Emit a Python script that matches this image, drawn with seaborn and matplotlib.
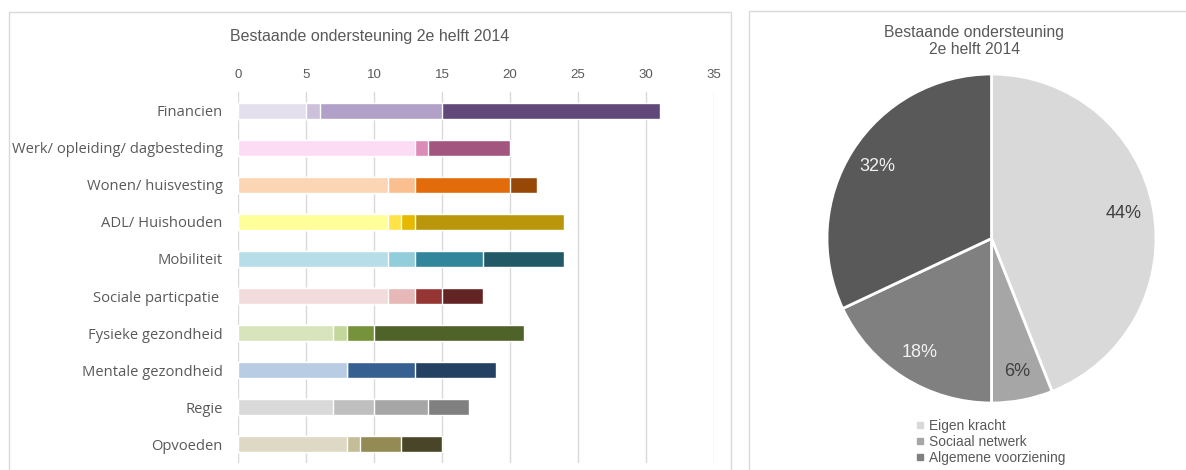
import matplotlib
matplotlib.use("Agg")
import matplotlib.pyplot as plt
from matplotlib.patches import Rectangle
from matplotlib.lines import Line2D
import seaborn as sns
import pandas as pd
import numpy as np

# ---- data ----
categories = ["Financien", "Werk/ opleiding/ dagbesteding", "Wonen/ huisvesting",
              "ADL/ Huishouden", "Mobiliteit", "Sociale particpatie ",
              "Fysieke gezondheid", "Mentale gezondheid", "Regie", "Opvoeden"]
seg1 = [5, 13, 11, 11, 11, 11, 7, 8, 7, 8]
seg2 = [1, 1, 2, 1, 2, 2, 1, 0, 3, 1]
seg3 = [9, 6, 7, 1, 5, 2, 2, 5, 4, 3]
seg4 = [16, 0, 2, 11, 6, 3, 11, 6, 3, 3]
x_ticks = [0, 5, 10, 15, 20, 25, 30, 35]

pie_labels = ["Eigen kracht", "Sociaal netwerk", "Algemene voorziening", ""]
pie_values = [44, 6, 18, 32]

# colour shades per category (lightest -> darkest)
shade1 = ["#E4DFEC", "#FCDCF4", "#FCD5B4", "#FFFF99", "#B7DEE8", "#F2DCDB", "#D8E4BC", "#B8CCE4", "#D9D9D9", "#DDD9C4"]
shade2 = ["#CCC0DA", "#DA8BB8", "#FABF8F", "#FFE347", "#92CDDC", "#E6B8B7", "#C4D79B", "#95B3D7", "#BFBFBF", "#C4BD97"]
shade3 = ["#B1A0C7", "#A2567F", "#E26B0A", "#E6B800", "#31869B", "#963634", "#76933C", "#366092", "#A6A6A6", "#948A54"]
shade4 = ["#60497A", "#A2567F", "#974706", "#BA960A", "#215967", "#632523", "#4F6228", "#244062", "#808080", "#494529"]
pie_colors = ["#D9D9D9", "#A6A6A6", "#808080", "#595959"]

W, H = 1186, 470
fig = plt.figure(figsize=(W / 100, H / 100), dpi=100)
sns.set_style("white")
plt.rcParams['font.family'] = ['Liberation Sans', 'DejaVu Sans']

# panel frames
fig.patches.append(Rectangle((9 / W, -0.1), (731 - 9) / W, 1 - 12 / H + 0.1,
                             transform=fig.transFigure, fill=False, ec="#D9D9D9", lw=1))
fig.patches.append(Rectangle((749 / W, -0.1), 0.5, 1 - 11 / H + 0.1,
                             transform=fig.transFigure, fill=False, ec="#D9D9D9", lw=1))

# ---- stacked bar chart ----
ax = fig.add_axes([238 / W, 1 - 463 / H, (714 - 238) / W, (463 - 92) / H])
df = pd.DataFrame({"cat": categories, "s1": seg1, "s2": seg2, "s3": seg3, "s4": seg4})
c1 = df["s1"]
c2 = c1 + df["s2"]
c3 = c2 + df["s3"]
c4 = c3 + df["s4"]
for cum, shades in [(c4, shade4), (c3, shade3), (c2, shade2), (c1, shade1)]:
    sns.barplot(x=cum.values, y=df["cat"], hue=df["cat"], palette=dict(zip(categories, shades)),
                order=categories, hue_order=categories, orient="h", width=0.43,
                saturation=1, legend=False, ax=ax, zorder=3)

ax.set_xlim(0, 35)
ax.set_ylim(9.5, -0.5)
ax.set_xticks(x_ticks)
ax.xaxis.tick_top()
ax.grid(axis="x", color="#D9D9D9", lw=1, zorder=0)
ax.set_axisbelow(True)
for s in ax.spines.values():
    s.set_visible(False)
ax.set_xlabel("")
ax.set_ylabel("")
ax.tick_params(axis="x", length=0, pad=8, labelsize=9.5, labelcolor="#595959")
ax.tick_params(axis="y", length=0, pad=11, labelcolor="#595959")
for lbl in ax.get_xticklabels():
    lbl.set_family(['Liberation Sans Narrow', 'Liberation Sans'])
for lbl in ax.get_yticklabels():
    lbl.set_family(['Open Sans', 'DejaVu Sans'])
    lbl.set_fontsize(10.6)

fig.text(370 / W, 1 - 36 / H, "Bestaande ondersteuning 2e helft 2014", ha="center", va="center",
         fontsize=11.5, color="#595959", family=['Liberation Sans Narrow', 'Liberation Sans'])

# ---- pie chart ----
cx, cy, r = 991.5, 238.5, 164.5
pax = fig.add_axes([(cx - r) / W, 1 - (cy + r) / H, 2 * r / W, 2 * r / H])
wedges, texts, autotexts = pax.pie(pie_values, colors=pie_colors, startangle=90, counterclock=False,
                                   autopct="%1.0f%%", pctdistance=0.82,
                                   wedgeprops=dict(edgecolor="white", linewidth=2),
                                   textprops=dict(fontsize=13))
for t, col in zip(autotexts, ["#404040", "#404040", "#F2F2F2", "#F2F2F2"]):
    t.set_color(col)
pax.set_xlim(-1, 1)
pax.set_ylim(-1, 1)
pax.set_aspect("equal")

fig.text(974.5 / W, 1 - 41 / H, "Bestaande ondersteuning\n2e helft 2014", ha="center", va="center",
         fontsize=11.3, color="#595959", linespacing=1.1)

handles = [Line2D([], [], marker="s", ls="none", markersize=4, color=c) for c in pie_colors[:3]]
fig.legend(handles, pie_labels[:3], loc="upper left", bbox_to_anchor=(909 / W, 1 - 412 / H),
           frameon=False, handlelength=0.6, handletextpad=0.35, labelspacing=0.15,
           borderpad=0, prop=dict(size=9.9), labelcolor="#595959")

fig.savefig("out.png", dpi=100)
